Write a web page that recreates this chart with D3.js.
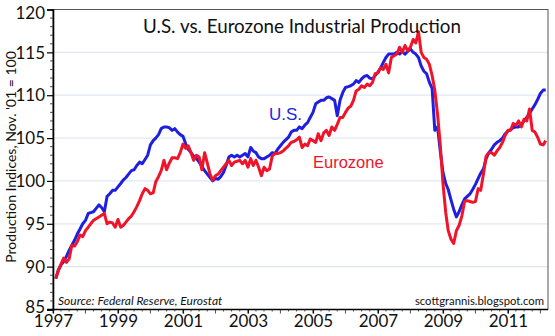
<!DOCTYPE html>
<html><head><meta charset="utf-8">
<script src="https://cdn.jsdelivr.net/npm/d3@7"></script>
<style>
html,body{margin:0;padding:0;background:#fff;}
svg{display:block;}
.fut{font-family:Lato,"Open Sans",sans-serif;}
</style></head>
<body><svg id="c" width="555" height="336"></svg>
<script>
// Monthly data, Jan 1997 .. Feb 2012 (index: Nov 2001 = 100)
const startYear = 1997;
const usValues = [
 88.6, 89.6, 90.2, 90.6, 91.2, 91.9, 92.5, 93.1, 93.8, 94.4, 95.0, 95.4,
 96.2, 96.3, 96.4, 96.8, 97.2, 96.9, 96.4, 98.2, 98.5, 98.9, 98.9, 99.3,
 99.7, 100.1, 100.4, 100.8, 101.2, 101.3, 101.8, 102.2, 102.0, 102.5, 103.0, 104.2,
 104.7, 105.0, 105.4, 106.1, 106.3, 106.3, 106.2, 105.9, 106.1, 105.7, 105.4, 105.2,
 104.3, 103.7, 103.3, 102.9, 102.6, 102.2, 101.7, 101.2, 100.8, 100.4, 100.0, 100.3,
 100.2, 100.5, 101.0, 101.8, 102.8, 103.0, 102.8, 103.0, 102.8, 103.0, 103.2, 102.8,
 103.9, 103.5, 103.3, 102.8, 102.6, 102.6, 102.8, 103.0, 103.3, 103.2, 103.7, 104.1,
 104.5, 104.8, 105.1, 105.7, 105.9, 105.9, 106.3, 106.1, 106.5, 106.8, 107.4, 108.0,
 109.0, 109.2, 109.4, 109.4, 109.7, 109.8, 109.6, 109.4, 107.6, 109.4, 110.3, 110.9,
 111.0, 111.1, 111.3, 111.7, 111.5, 111.9, 112.2, 112.3, 112.0, 111.9, 112.3, 112.7,
 113.2, 113.8, 114.4, 114.8, 114.8, 114.8, 115.0, 114.8, 115.1, 114.8, 115.1, 115.4,
 115.0, 114.8, 114.4, 113.4, 112.8, 112.5, 111.5, 110.8, 105.9, 106.3, 103.5, 101.0,
 99.7, 99.0, 97.8, 96.7, 95.8, 96.4, 97.2, 97.9, 98.2, 98.5, 99.0, 99.6,
 100.3, 100.9, 101.4, 102.6, 103.3, 103.7, 104.2, 104.5, 104.7, 105.0, 105.5, 105.8,
 106.0, 106.2, 106.3, 106.3, 106.6, 107.0, 107.4, 107.9, 108.4, 108.9, 109.5, 110.2,
 110.6, 110.6
];
const euroValues = [
 88.6, 89.5, 90.3, 91.0, 90.5, 90.9, 92.5, 92.4, 92.9, 93.7, 93.5, 94.2,
 94.6, 95.0, 95.4, 95.6, 95.8, 96.0, 96.2, 95.0, 95.2, 95.1, 94.6, 95.5,
 94.6, 94.8, 95.2, 95.6, 95.9, 96.4, 97.0, 97.7, 98.5, 99.1, 98.9, 98.5,
 98.6, 99.9, 100.5, 101.2, 102.4, 101.3, 102.1, 102.7, 102.7, 102.6, 103.3, 104.3,
 103.8, 104.1, 103.3, 102.4, 103.0, 102.8, 101.3, 103.3, 102.1, 100.8, 100.1, 100.6,
 100.8, 101.2, 101.6, 102.0, 102.4, 101.8, 102.2, 102.3, 102.4, 102.0, 102.4, 101.6,
 102.6, 101.8, 102.4, 101.6, 100.6, 101.6, 101.2, 101.4, 102.9, 103.2, 103.2, 103.3,
 103.5, 103.8, 104.1, 104.5, 104.6, 104.8, 105.1, 103.9, 104.3, 104.1, 104.9, 104.7,
 104.5, 105.5, 104.7, 105.6, 105.9, 105.3, 106.3, 105.9, 106.6, 107.4, 107.4, 108.0,
 108.5, 108.7, 109.4, 110.5, 110.7, 111.1, 110.9, 111.3, 111.1, 111.5, 112.5, 112.6,
 113.2, 113.0, 113.6, 112.6, 114.4, 114.6, 114.8, 115.6, 115.0, 115.8, 115.2, 115.6,
 116.5, 116.1, 117.4, 115.0, 114.4, 114.2, 113.6, 112.3, 110.6, 107.8, 104.3, 99.7,
 96.3, 94.2, 93.2, 92.7, 94.2, 94.8, 95.9, 97.6, 97.7, 97.6, 97.5, 97.6,
 99.1, 98.9, 100.8, 102.9, 103.3, 103.3, 103.0, 103.5, 103.9, 104.5, 105.3, 105.9,
 105.9, 106.7, 106.5, 107.0, 106.3, 107.2, 107.0, 108.4, 105.9, 105.7, 105.1, 104.3,
 104.2, 104.7
];
const yTicks = [85, 90, 95, 100, 105, 110, 115, 120];
const xTickYears = [1997, 1999, 2001, 2003, 2005, 2007, 2009, 2011];
const seriesNames = ["U.S.", "Eurozone"];
const titleText = "U.S. vs. Eurozone Industrial Production";
const yTitle = "Production Indices, Nov. '01 = 100";
const sourceText = "Source: Federal Reserve, Eurostat";
const creditText = "scottgrannis.blogspot.com";

const svg = d3.select("#c");
const L = 53, R = 548, T = 9.5, B = 309.5;
const x = d3.scaleTime().domain([new Date(1997,0,1), new Date(2012,3,1)]).range([L, 548.5]);
const y = d3.scaleLinear().domain([85,120]).range([B, T]);

// month-end dates
const dateOf = i => new Date(startYear, i + 1, 1);

// gridlines
svg.append("g").selectAll("line").data(yTicks.filter(v => v > 85 && v < 120)).join("line")
  .attr("x1", L).attr("x2", R).attr("y1", d => y(d)).attr("y2", d => y(d))
  .attr("stroke", "#dfe8f3").attr("stroke-width", 1.2);

// frame
svg.append("rect").attr("x", L).attr("y", T).attr("width", R - L).attr("height", B - T)
  .attr("fill", "none").attr("stroke", "#555").attr("stroke-width", 1);

// Y axis
const yAxis = d3.axisLeft(y).tickValues(yTicks).tickSize(6).tickPadding(2).tickFormat(d3.format("d"));
const gy = svg.append("g").attr("transform", `translate(${L},0)`).call(yAxis);
gy.select(".domain").attr("stroke", "#000").attr("stroke-width", 1.6);
gy.selectAll(".tick line").attr("stroke", "#000").attr("stroke-width", 1.2);
gy.selectAll("text").attr("class", "fut").attr("font-size", 17).attr("fill", "#111")
  .attr("dy", d => d === 85 ? "0.2em" : (d === 120 ? "0.5em" : "0.34em"));
// y minor ticks
svg.append("g").selectAll("line").data(d3.range(85, 120, 1).filter(v => v % 5 !== 0)).join("line")
  .attr("x1", L - 3).attr("x2", L).attr("y1", d => y(d)).attr("y2", d => y(d))
  .attr("stroke", "#222").attr("stroke-width", 0.8);

// X axis
const xAxis = d3.axisBottom(x)
  .tickValues(xTickYears.map(yv => new Date(yv,0,1)))
  .tickSize(4).tickPadding(0).tickFormat(d3.timeFormat("%Y"));
const gx = svg.append("g").attr("transform", `translate(0,${B})`).call(xAxis);
gx.select(".domain").remove();
gx.selectAll(".tick line").attr("stroke", "#000").attr("stroke-width", 1.2);
gx.selectAll("text").attr("class", "fut").attr("font-size", 17).attr("fill", "#111")
  .attr("y", 0).attr("dy", "1.0em");
svg.append("line").attr("x1", L - 6).attr("x2", R).attr("y1", B).attr("y2", B)
  .attr("stroke", "#000").attr("stroke-width", 1.6);
// x minor ticks (years + quarters)
const minorDates = d3.timeMonth.every(3).range(new Date(1997,0,1), new Date(2012,3,1));
svg.append("g").selectAll("line").data(minorDates).join("line")
  .attr("x1", d => x(d)).attr("x2", d => x(d))
  .attr("y1", B).attr("y2", d => B + (d.getMonth() === 0 ? 4 : 2))
  .attr("stroke", "#222").attr("stroke-width", 0.8);

// lines
const line = d3.line().x((d, i) => x(dateOf(i))).y(d => y(d)).curve(d3.curveLinear);
svg.append("path").datum(usValues).attr("d", line)
  .attr("fill", "none").attr("stroke", "#1f1fe0").attr("stroke-width", 3)
  .attr("stroke-linejoin", "round");
svg.append("path").datum(euroValues).attr("d", line)
  .attr("fill", "none").attr("stroke", "#f0142a").attr("stroke-width", 3)
  .attr("stroke-linejoin", "round");

// series labels
svg.append("text").attr("x", 269).attr("y", 120).text(seriesNames[0])
  .attr("font-family", "Liberation Sans, Arial, sans-serif").attr("font-size", 17).attr("fill", "#1f1fe0");
svg.append("text").attr("x", 313).attr("y", 168).text(seriesNames[1])
  .attr("font-family", "Liberation Sans, Arial, sans-serif").attr("font-size", 16.5).attr("fill", "#f0142a");

// title
svg.append("text").attr("class", "fut").attr("x", 302).attr("y", 33).attr("text-anchor", "middle")
  .attr("font-size", 18.8).attr("fill", "#111").text(titleText);

// y title
svg.append("text").attr("class", "fut")
  .attr("transform", "translate(16,157) rotate(-90)").attr("text-anchor", "middle")
  .attr("font-size", 14).attr("fill", "#111").text(yTitle);

// source & credit
svg.append("text").attr("class", "fut").attr("x", 58).attr("y", 305)
  .attr("font-size", 12).attr("font-style", "italic").attr("fill", "#111").text(sourceText);
svg.append("text").attr("class", "fut").attr("x", 544).attr("y", 305).attr("text-anchor", "end")
  .attr("font-size", 11.3).attr("fill", "#111").text(creditText);
</script></body></html>
